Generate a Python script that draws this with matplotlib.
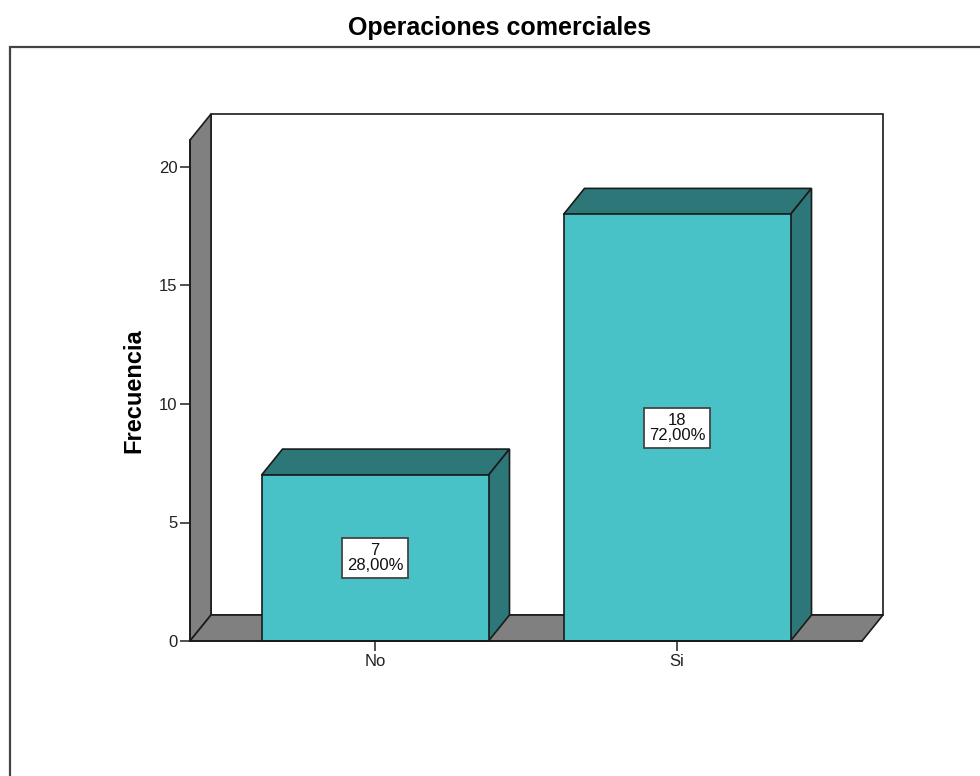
import matplotlib
matplotlib.use("Agg")
import matplotlib.pyplot as plt
from matplotlib.patches import Polygon, Rectangle

# Datos
categorias = ["No", "Si"]
frecuencias = [7, 18]
porcentajes = ["28,00%", "72,00%"]
yticks = [0, 5, 10, 15, 20]

titulo = "Operaciones comerciales"
etiqueta_y = "Frecuencia"

plt.rcParams["font.family"] = ["Liberation Sans", "DejaVu Sans"]

W, H = 980, 776
fig = plt.figure(figsize=(W / 100, H / 100), dpi=100)

# ejes frontales: x 190..862 px, y 641..140 px
x0, x1 = 190, 862
y0, y1 = 641, 140
ax = fig.add_axes([x0 / W, 1 - y0 / H, (x1 - x0) / W, (y0 - y1) / H])

px_cat = 302.0          # px entre categorias
px_unit = 23.7          # px por unidad de frecuencia
xmin = -(375 - x0) / px_cat
xmax = (x1 - 375) / px_cat
ymax = (y0 - y1) / px_unit
ax.set_xlim(xmin, xmax)
ax.set_ylim(0, ymax)

# profundidad 3D en unidades de datos
dx = 21 / px_cat
dy = 26 / px_unit
ancho = 227 / px_cat

gris = "#808080"
cian = "#48c2c6"
cian_osc = "#2d7778"
borde = "#1a1a1a"

# paredes
pared = Polygon([(xmin, 0), (xmin, ymax), (xmin + dx, ymax + dy), (xmin + dx, dy)],
                closed=True, fc=gris, ec=borde, lw=1.2, clip_on=False, zorder=1)
suelo = Polygon([(xmin, 0), (xmax, 0), (xmax + dx, dy), (xmin + dx, dy)],
                closed=True, fc=gris, ec=borde, lw=1.2, clip_on=False, zorder=1)
fondo = Rectangle((xmin + dx, dy), xmax - xmin, ymax, fc="white", ec=borde,
                  lw=1.2, clip_on=False, zorder=0.5)
for p in (fondo, pared, suelo):
    ax.add_patch(p)

for i, (v, pct) in enumerate(zip(frecuencias, porcentajes)):
    xl, xr = i - ancho / 2, i + ancho / 2
    ax.add_patch(Polygon([(xl, v), (xr, v), (xr + dx, v + dy), (xl + dx, v + dy)],
                         closed=True, fc=cian_osc, ec=borde, lw=1.2, clip_on=False, zorder=3))
    ax.add_patch(Polygon([(xr, 0), (xr, v), (xr + dx, v + dy), (xr + dx, dy)],
                         closed=True, fc=cian_osc, ec=borde, lw=1.2, clip_on=False, zorder=3))
    ax.add_patch(Rectangle((xl, 0), ancho, v, fc=cian, ec=borde, lw=1.2,
                           clip_on=False, zorder=4))
    ax.text(i, v / 2, f"{v}\n{pct}", ha="center", va="center", fontsize=12,
            linespacing=1.0, zorder=6, color="#111111",
            bbox=dict(boxstyle="square,pad=0.3", fc="white", ec="#444444", lw=1.3))

ax.set_xticks(range(len(categorias)))
ax.set_xticklabels(categorias)
ax.set_yticks(yticks)
ax.tick_params(axis="both", direction="out", length=7, width=1.2, color="#333333",
               labelsize=12, labelcolor="#222222", pad=2)
ax.spines["top"].set_visible(False)
ax.spines["right"].set_visible(False)
for s in ("left", "bottom"):
    ax.spines[s].set_zorder(5)
    ax.spines[s].set_linewidth(1.2)
    ax.spines[s].set_color(borde)
ax.patch.set_alpha(0)
ax.set_ylabel(etiqueta_y, fontsize=17, fontweight="bold", labelpad=10)

# marco exterior
marco = Rectangle((9.5 / W, -0.1), 1.2, 1.1 - 46.5 / H, transform=fig.transFigure,
                  fill=False, ec="#444444", lw=1.6)
fig.add_artist(marco)
fig.text(500 / W, 1 - 28 / H, titulo, ha="center", va="center", fontsize=18,
         fontweight="bold")

fig.savefig("out.png", dpi=100)
